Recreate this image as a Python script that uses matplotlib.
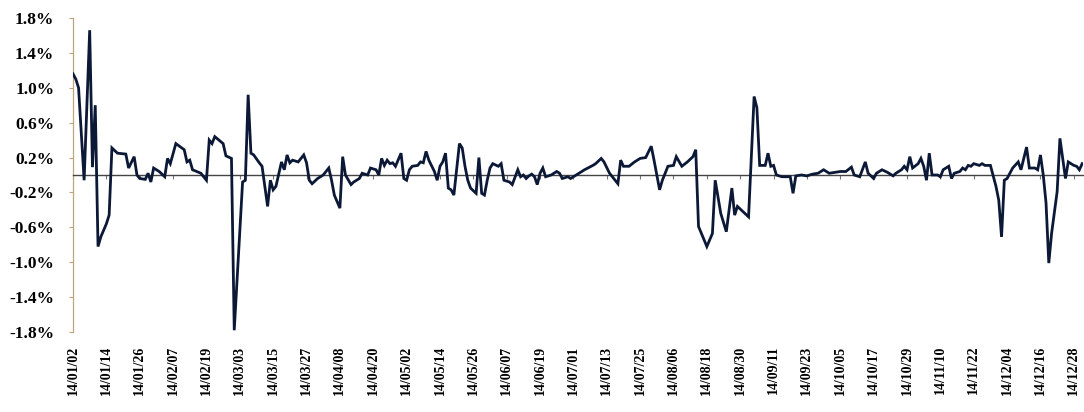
import matplotlib
matplotlib.use("Agg")
import matplotlib.pyplot as plt
import numpy as np
import pandas as pd

start_date = "2014-01-02"
# days since 2014-01-02
days = [0, 1, 2, 4, 6, 7, 8, 9, 10, 12, 13, 14, 16, 19, 20, 22, 23, 24, 26, 27,
        28, 29, 31, 33, 34, 35, 37, 40, 41, 42, 43, 46, 48, 49, 50, 51, 54, 55, 57, 58,
        61, 62, 63, 64, 65, 67, 68, 70, 71, 72, 73, 75, 76, 77, 78, 79, 81, 83, 84, 85,
        86, 88, 90, 91, 92, 93, 94, 96, 97, 98, 100, 101, 103, 104, 106, 107, 109, 110, 111, 112,
        113, 114, 115, 116, 118, 119, 120, 121, 122, 124, 125, 126, 127, 128, 130, 131, 132, 133, 134, 135,
        136, 137, 139, 140, 141, 142, 143, 145, 146, 147, 148, 149, 150, 151, 153, 154, 155, 157, 158, 160,
        161, 162, 163, 164, 165, 166, 167, 168, 169, 170, 172, 174, 175, 176, 178, 179, 181, 182, 184, 187,
        188, 190, 191, 193, 196, 197, 198, 200, 202, 204, 206, 208, 209, 211, 212, 214, 216, 217, 219, 221,
        223, 224, 225, 228, 230, 231, 233, 235, 237, 238, 239, 241, 243, 245, 246, 247, 249, 250, 251, 252,
        253, 255, 258, 259, 260, 262, 264, 266, 268, 270, 272, 274, 276, 278, 280, 281, 283, 285, 286, 288,
        289, 291, 293, 295, 296, 298, 299, 300, 301, 302, 304, 305, 306, 307, 308, 309, 311, 312, 313, 315,
        316, 317, 319, 320, 321, 322, 323, 324, 326, 327, 328, 330, 332, 333, 334, 335, 336, 338, 340, 341,
        343, 344, 346, 347, 348, 349, 350, 351, 352, 354, 355, 356, 357, 358, 360, 361, 362, 363]
# percent values
values = [1.16, 1.10, 1.00, -0.06, 1.66, 0.09, 0.80, -0.82, -0.71, -0.56, -0.46, 0.31, 0.25, 0.24, 0.08, 0.21, 0.00, -0.04, -0.05, 0.02,
          -0.08, 0.08, 0.04, -0.02, 0.19, 0.13, 0.36, 0.29, 0.15, 0.17, 0.06, 0.02, -0.06, 0.40, 0.36, 0.44, 0.36, 0.22, 0.19, -1.78,
          -0.08, -0.06, 0.92, 0.25, 0.23, 0.14, 0.10, -0.36, -0.06, -0.17, -0.13, 0.15, 0.06, 0.23, 0.14, 0.17, 0.15, 0.23, 0.14, -0.06,
          -0.10, -0.04, 0.00, 0.04, 0.08, -0.06, -0.23, -0.38, 0.21, 0.00, -0.11, -0.08, -0.04, 0.02, 0.00, 0.08, 0.06, 0.00, 0.19, 0.11,
          0.17, 0.13, 0.14, 0.10, 0.25, -0.04, -0.06, 0.06, 0.10, 0.11, 0.15, 0.14, 0.27, 0.17, 0.04, -0.06, 0.10, 0.15, 0.25, -0.15,
          -0.17, -0.23, 0.36, 0.31, 0.10, -0.06, -0.15, -0.21, 0.20, -0.21, -0.23, -0.06, 0.08, 0.13, 0.10, 0.13, -0.06, -0.08, -0.11, 0.06,
          -0.02, 0.00, -0.04, -0.01, 0.01, -0.02, -0.11, 0.02, 0.08, -0.02, 0.00, 0.04, 0.02, -0.04, -0.02, -0.04, 0.00, 0.02, 0.06, 0.11,
          0.13, 0.19, 0.15, 0.02, -0.10, 0.17, 0.10, 0.10, 0.15, 0.19, 0.20, 0.33, 0.17, -0.17, -0.06, 0.10, 0.11, 0.21, 0.10, 0.15,
          0.21, 0.29, -0.59, -0.82, -0.67, -0.06, -0.44, -0.65, -0.15, -0.46, -0.36, -0.42, -0.48, 0.90, 0.77, 0.11, 0.11, 0.25, 0.10, 0.11,
          0.00, -0.02, -0.02, -0.21, -0.01, 0.00, -0.01, 0.01, 0.02, 0.06, 0.02, 0.03, 0.04, 0.04, 0.09, 0.00, -0.02, 0.15, 0.02, -0.04,
          0.02, 0.06, 0.03, -0.01, 0.02, 0.06, 0.10, 0.06, 0.21, 0.08, 0.13, 0.19, 0.10, -0.06, 0.25, 0.00, 0.00, -0.02, 0.06, 0.10,
          -0.04, 0.02, 0.04, 0.08, 0.06, 0.11, 0.10, 0.13, 0.11, 0.13, 0.11, 0.11, -0.13, -0.29, -0.71, -0.06, -0.04, 0.08, 0.15, 0.06,
          0.32, 0.08, 0.08, 0.06, 0.23, 0.00, -0.32, -1.01, -0.67, -0.19, 0.42, 0.19, -0.04, 0.15, 0.11, 0.10, 0.06, 0.13]

tick_days = list(range(0, 361, 12))
y_ticks = [-1.8, -1.4, -1.0, -0.6, -0.2, 0.2, 0.6, 1.0, 1.4, 1.8]

assert len(days) == len(values)

start = pd.Timestamp(start_date)
tick_labels = [(start + pd.Timedelta(days=d)).strftime("%y/%m/%d") for d in tick_days]

plt.rcParams["font.family"] = ["Liberation Serif", "DejaVu Serif"]
plt.rcParams["font.weight"] = "bold"

W, H = 1084, 412
fig = plt.figure(figsize=(W / 100, H / 100), dpi=100)
fig.patch.set_facecolor("white")
left, right, top, bottom = 73, 1083, 18, 332
ax = fig.add_axes([left / W, 1 - bottom / H, (right - left) / W, (bottom - top) / H])

ax.plot(days, values, color="#0b1836", lw=2.0, solid_joinstyle="miter", zorder=3)

ax.set_xlim(0, 363.3)
ax.set_ylim(-1.8, 1.8)

ax.tick_params(axis="y", direction="out", length=3, width=0.8, color="#c0a47c", pad=10.5)
ax.tick_params(axis="x", direction="out", length=3, width=0.8, color="#777777", pad=120,
               labelrotation=90)

ax.set_yticks(y_ticks)
ax.set_yticklabels([f"{v:.1f}%" for v in y_ticks], fontsize=12.5, fontweight="bold")

ax.set_xticks(tick_days)
ax.set_xticklabels(tick_labels, fontsize=12.5, fontweight="bold")
for lab in ax.get_xticklabels():
    lab.set_rotation(90)
    lab.set_ha("center")
    lab.set_va("top")

for s in ("top", "right"):
    ax.spines[s].set_visible(False)
ax.spines["left"].set_color("#c0a47c")
ax.spines["left"].set_linewidth(0.9)
ax.spines["bottom"].set_position(("data", 0))
ax.spines["bottom"].set_color("#444444")
ax.spines["bottom"].set_linewidth(1.0)

fig.savefig("out.png", dpi=100, facecolor="white")
